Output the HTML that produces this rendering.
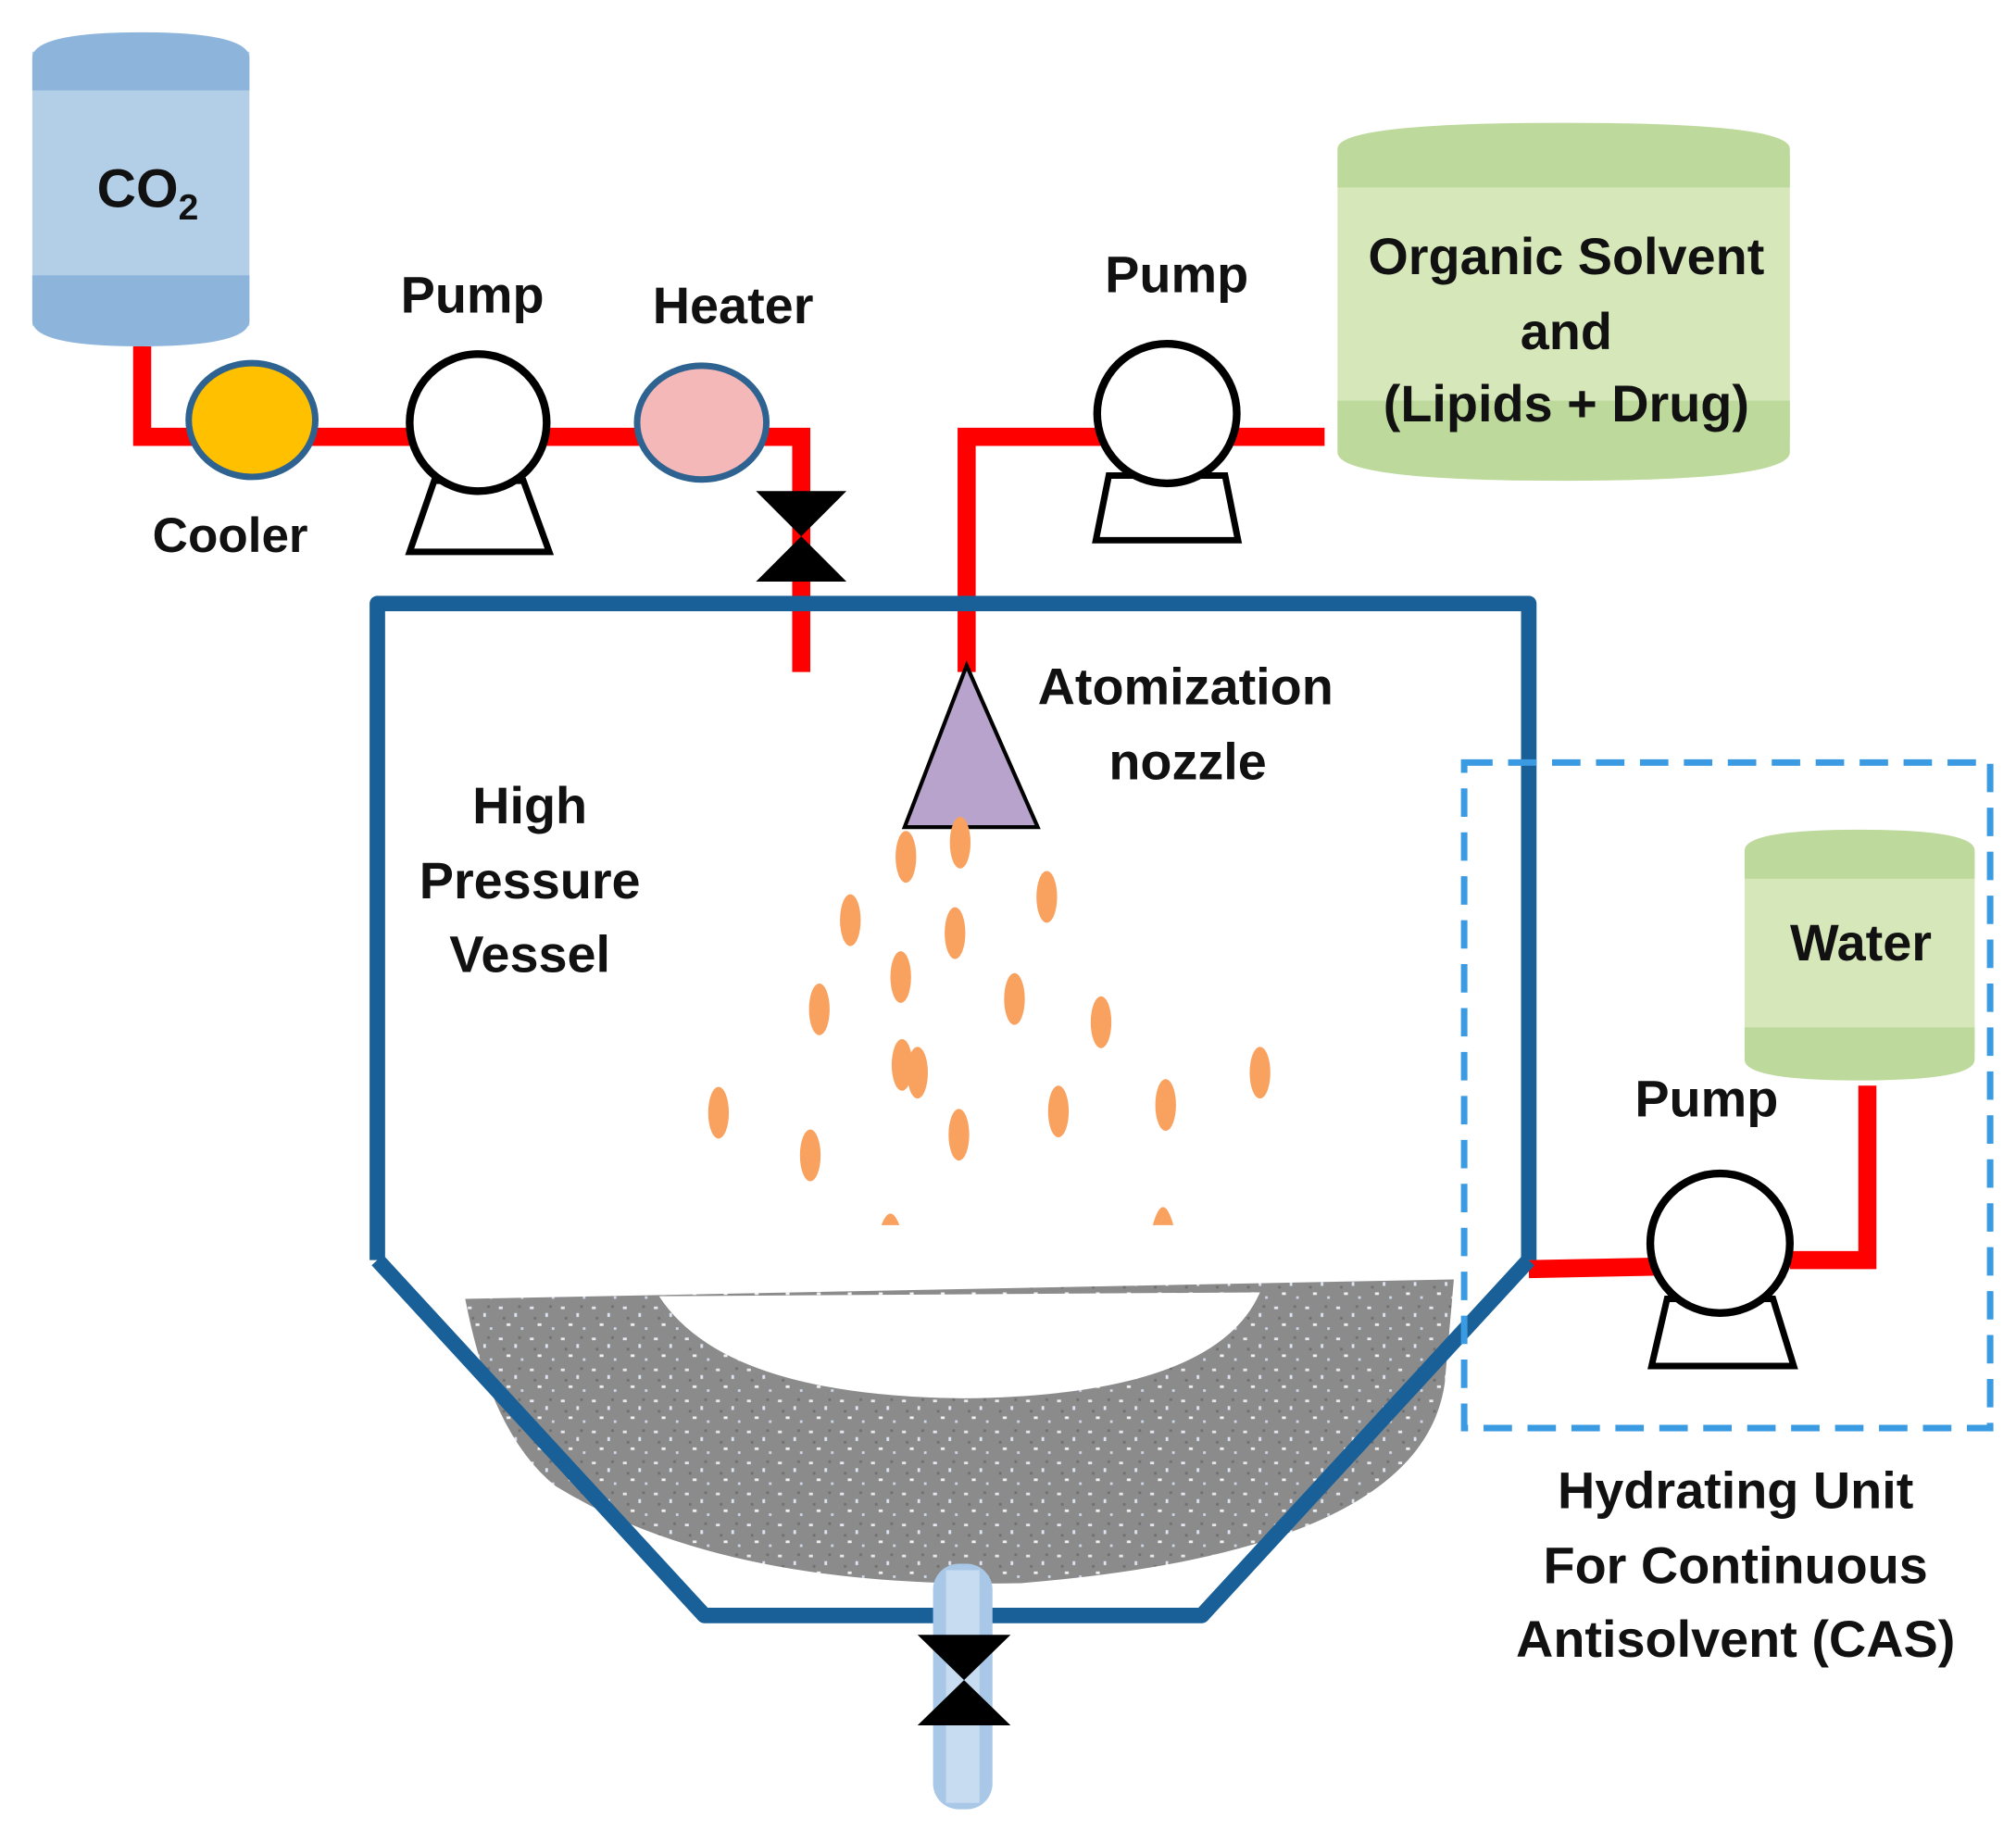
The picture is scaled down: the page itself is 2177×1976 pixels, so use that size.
<!DOCTYPE html>
<html><head><meta charset="utf-8"><style>
html,body{margin:0;padding:0;background:#fff;}
svg{display:block;}
text{font-family:"Liberation Sans",sans-serif;font-weight:bold;fill:#111;}
</style></head><body>
<svg width="2177" height="1976" viewBox="0 0 1560 1416" preserveAspectRatio="none" xmlns="http://www.w3.org/2000/svg">
<defs>
<pattern id="speck" width="24" height="24" patternUnits="userSpaceOnUse">
<rect width="24" height="24" fill="#8b8b8b"/>
<rect x="2" y="3" width="3" height="2" fill="#e8e8f0"/>
<rect x="14" y="8" width="2" height="3" fill="#dfe6f2"/>
<rect x="8" y="16" width="3" height="2" fill="#f2f2f2"/>
<rect x="19" y="19" width="2" height="2" fill="#cfd8e8"/>
<rect x="5" y="11" width="2" height="2" fill="#6f6f6f"/>
<rect x="17" y="2" width="2" height="2" fill="#707070"/>
</pattern>
</defs>

<!-- CO2 tank -->
<rect x="25" y="40" width="168" height="212" fill="#b3cfe8"/>
<path d="M25,70 L25,45 Q25,25 109,25 Q193,25 193,45 L193,70 Z" fill="#8db5dc"/>
<path d="M25,213 L25,248 Q25,268 109,268 Q193,268 193,248 L193,213 Z" fill="#8db5dc"/>
<text x="75" y="160" font-size="42">CO<tspan font-size="28" dy="10">2</tspan></text>

<!-- red pipes -->
<g stroke="#ff0000" stroke-width="14" fill="none">
<polyline points="110,268 110,338 620,338 620,520"/>
<polyline points="1025,338 748,338 748,520"/>
<line x1="1183" y1="982" x2="1285" y2="980"/>
<polyline points="1385,975 1445,975 1445,840"/>
</g>

<!-- cooler -->
<ellipse cx="195" cy="325" rx="49" ry="44" fill="#ffc000" stroke="#2e6290" stroke-width="5"/>
<text x="118" y="427" font-size="38">Cooler</text>

<!-- pump 1 -->
<path d="M336,372 L405,372 L425,427 L317,427 Z" fill="#fff" stroke="#000" stroke-width="5"/>
<circle cx="370" cy="327" r="53" fill="#fff" stroke="#000" stroke-width="6"/>
<text x="310" y="242" font-size="40">Pump</text>

<!-- heater -->
<ellipse cx="543" cy="327" rx="50" ry="44" fill="#f4b8b8" stroke="#2e6290" stroke-width="5"/>
<text x="505" y="250" font-size="40">Heater</text>

<!-- valve top -->
<polygon points="585,380 655,380 620,415" fill="#000"/>
<polygon points="585,450 655,450 620,415" fill="#000"/>

<!-- pump 2 -->
<path d="M858,368 L948,368 L958,418 L848,418 Z" fill="#fff" stroke="#000" stroke-width="5"/>
<circle cx="903" cy="320" r="54" fill="#fff" stroke="#000" stroke-width="6"/>
<text x="855" y="226" font-size="40">Pump</text>

<!-- organic tank -->
<rect x="1035" y="120" width="350" height="220" fill="#d6e7b9"/>
<path d="M1035,145 L1035,115 Q1035,95 1210,95 Q1385,95 1385,115 L1385,145 Z" fill="#bdd99c"/>
<path d="M1035,310 L1035,350 Q1035,372 1210,372 Q1385,372 1385,350 L1385,310 Z" fill="#bdd99c"/>
<text x="1212" y="212" font-size="40" text-anchor="middle">Organic Solvent</text>
<text x="1212" y="270" font-size="40" text-anchor="middle">and</text>
<text x="1212" y="326" font-size="40" text-anchor="middle">(Lipids + Drug)</text>

<!-- sediment -->
<path d="M360,1005 L1125,990 L1118,1070 Q1100,1200 790,1225 Q560,1230 430,1150 Q380,1110 360,1005 Z" fill="url(#speck)"/>
<path d="M510,1003 Q560,1080 745,1082 Q940,1080 975,1000 Z" fill="#fff"/>

<!-- vessel -->
<path d="M292,975 L292,467 L1183,467 L1183,975 M292,975 L545,1250 L930,1250 L1183,975" fill="none" stroke="#1a6098" stroke-width="12" stroke-linejoin="round"/>

<!-- drain -->
<rect x="722" y="1210" width="46" height="190" rx="20" fill="#a9c7e6"/>
<rect x="732" y="1215" width="26" height="180" fill="#c7dcf0"/>
<polygon points="710,1265 782,1265 746,1300" fill="#000"/>
<polygon points="710,1335 782,1335 746,1300" fill="#000"/>

<!-- nozzle -->
<polygon points="748,515 700,640 803,640" fill="#b8a3cc" stroke="#000" stroke-width="3"/>
<text x="803" y="545" font-size="40">Atomization</text>
<text x="858" y="603" font-size="40">nozzle</text>

<text x="410" y="637" font-size="40" text-anchor="middle">High</text>
<text x="410" y="695" font-size="40" text-anchor="middle">Pressure</text>
<text x="410" y="752" font-size="40" text-anchor="middle">Vessel</text>

<!-- droplets -->
<g fill="#f9a15f">
<ellipse cx="701" cy="663" rx="8" ry="20"/>
<ellipse cx="743" cy="652" rx="8" ry="20"/>
<ellipse cx="810" cy="694" rx="8" ry="20"/>
<ellipse cx="658" cy="712" rx="8" ry="20"/>
<ellipse cx="739" cy="722" rx="8" ry="20"/>
<ellipse cx="697" cy="756" rx="8" ry="20"/>
<ellipse cx="785" cy="773" rx="8" ry="20"/>
<ellipse cx="634" cy="781" rx="8" ry="20"/>
<ellipse cx="852" cy="791" rx="8" ry="20"/>
<ellipse cx="698" cy="824" rx="8" ry="20"/>
<ellipse cx="710" cy="830" rx="8" ry="20"/>
<ellipse cx="975" cy="830" rx="8" ry="20"/>
<ellipse cx="556" cy="861" rx="8" ry="20"/>
<ellipse cx="819" cy="860" rx="8" ry="20"/>
<ellipse cx="902" cy="855" rx="8" ry="20"/>
<ellipse cx="742" cy="878" rx="8" ry="20"/>
<ellipse cx="627" cy="894" rx="8" ry="20"/>
<path d="M682,948 Q689,930 696,948 Z"/>
<path d="M892,948 Q900,920 908,948 Z"/>
</g>

<!-- hydrating unit -->
<rect x="1133" y="590" width="407" height="515" fill="none" stroke="#3a9ae2" stroke-width="5" stroke-dasharray="22,12"/>
<rect x="1350" y="660" width="178" height="155" fill="#d6e7b9"/>
<path d="M1350,680 L1350,658 Q1350,642 1439,642 Q1528,642 1528,658 L1528,680 Z" fill="#bdd99c"/>
<path d="M1350,795 L1350,820 Q1350,836 1439,836 Q1528,836 1528,820 L1528,795 Z" fill="#bdd99c"/>
<text x="1440" y="743" font-size="40" text-anchor="middle">Water</text>

<path d="M1290,1005 L1372,1005 L1388,1057 L1278,1057 Z" fill="#fff" stroke="#000" stroke-width="5"/>
<circle cx="1331" cy="962" r="54" fill="#fff" stroke="#000" stroke-width="6"/>
<text x="1265" y="864" font-size="40">Pump</text>

<text x="1343" y="1167" font-size="40" text-anchor="middle">Hydrating Unit</text>
<text x="1343" y="1225" font-size="40" text-anchor="middle">For Continuous</text>
<text x="1343" y="1282" font-size="40" text-anchor="middle">Antisolvent (CAS)</text>
</svg>
</body></html>
